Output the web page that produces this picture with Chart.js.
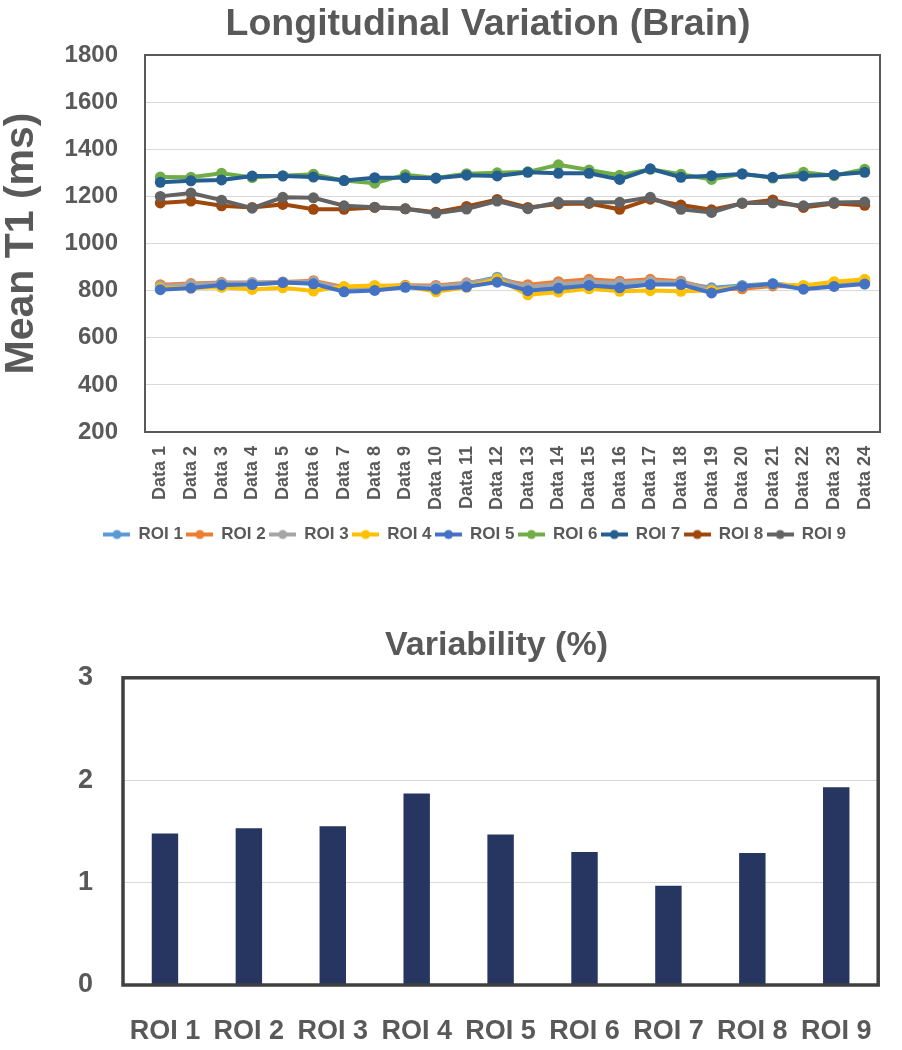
<!DOCTYPE html>
<html>
<head>
<meta charset="utf-8">
<title>Longitudinal Variation (Brain)</title>
<script src="https://cdn.jsdelivr.net/npm/chart.js@4.4.0/dist/chart.umd.min.js"></script>
<style>
  body { margin: 0; background: #fff; }
  #top-wrap { position: absolute; left: 0; top: 0; width: 902px; height: 553px; }
  #bottom-wrap { position: absolute; left: 0; top: 590px; width: 902px; height: 460px; }
</style>
</head>
<body>
<div id="top-wrap"><canvas id="trend"></canvas></div>
<div id="bottom-wrap"><canvas id="variability"></canvas></div>
<script>
var sessions = ['Data 1', 'Data 2', 'Data 3', 'Data 4', 'Data 5', 'Data 6', 'Data 7', 'Data 8',
  'Data 9', 'Data 10', 'Data 11', 'Data 12', 'Data 13', 'Data 14', 'Data 15', 'Data 16',
  'Data 17', 'Data 18', 'Data 19', 'Data 20', 'Data 21', 'Data 22', 'Data 23', 'Data 24'];

var roiNames = ['ROI 1', 'ROI 2', 'ROI 3', 'ROI 4', 'ROI 5', 'ROI 6', 'ROI 7', 'ROI 8', 'ROI 9'];

// mean T1 (ms) per session
var roi1 = [815, 822, 828, 828, 833, 836, 812, 816, 818, 820, 830, 857, 815, 820, 830, 825, 833, 833, 812, 822, 830, 818, 828, 840];
var roi2 = [825, 830, 835, 833, 837, 842, 814, 819, 823, 822, 833, 847, 825, 838, 848, 840, 848, 840, 805, 808, 820, 816, 828, 842];
var roi3 = [820, 826, 832, 835, 834, 838, 810, 815, 820, 818, 830, 850, 815, 828, 838, 832, 840, 835, 805, 818, 826, 818, 826, 842];
var roi4 = [810, 811, 814, 805, 812, 798, 818, 822, 820, 795, 814, 850, 782, 794, 808, 797, 800, 797, 800, 818, 826, 822, 838, 848];
var roi5 = [804, 811, 824, 826, 834, 829, 795, 801, 814, 806, 816, 836, 800, 810, 822, 812, 826, 826, 790, 818, 828, 806, 818, 828];
var roi6 = [1282, 1281, 1298, 1280, 1288, 1294, 1267, 1256, 1292, 1278, 1296, 1300, 1304, 1334, 1312, 1290, 1315, 1294, 1272, 1296, 1278, 1302, 1288, 1315];
var roi7 = [1260, 1266, 1270, 1286, 1286, 1282, 1267, 1279, 1279, 1277, 1290, 1287, 1302, 1298, 1298, 1272, 1317, 1281, 1288, 1295, 1281, 1286, 1292, 1302];
var roi8 = [1172, 1180, 1160, 1153, 1166, 1145, 1145, 1153, 1147, 1133, 1157, 1187, 1153, 1168, 1170, 1145, 1188, 1163, 1143, 1170, 1185, 1153, 1170, 1162];
var roi9 = [1200, 1214, 1184, 1150, 1196, 1194, 1160, 1154, 1147, 1128, 1146, 1180, 1148, 1175, 1175, 1175, 1196, 1145, 1132, 1172, 1172, 1160, 1174, 1176];

// variability (%) per ROI
var variability = [1.48, 1.53, 1.55, 1.87, 1.47, 1.30, 0.97, 1.29, 1.93];

var roiColors = ['#5b9bd5', '#ed7d31', '#a5a5a5', '#ffc000', '#4472c4', '#70ad47', '#255e91', '#9e480e', '#636363'];
var textColor = '#595959';

Chart.defaults.font.family = "'Liberation Sans', Arial, sans-serif";
Chart.defaults.font.weight = 'bold';
Chart.defaults.color = textColor;

// frame round the plot area
var boxBorder = {
  id: 'boxBorder',
  afterDraw: function(chart, args, opts) {
    var a = chart.chartArea;
    var ctx = chart.ctx;
    ctx.save();
    ctx.strokeStyle = opts.color;
    ctx.lineWidth = opts.width;
    ctx.strokeRect(a.left, a.top, a.right - a.left, a.bottom - a.top);
    ctx.restore();
  }
};

// nudge title / legend sideways (excel centres them a bit right of the canvas middle)
var nudge = {
  id: 'nudge',
  afterLayout: function(chart, args, opts) {
    if (chart.titleBlock) {
      chart.titleBlock.left += opts.title || 0;
      chart.titleBlock.right += opts.title || 0;
    }
    if (chart.legend) {
      chart.legend.left += opts.legend || 0;
      chart.legend.right += opts.legend || 0;
    }
  }
};

// little line-with-dot marker for the legend
function legendMark(color) {
  var c = document.createElement('canvas');
  c.width = 27;
  c.height = 12;
  var g = c.getContext('2d');
  g.strokeStyle = color;
  g.lineWidth = 4;
  g.beginPath();
  g.moveTo(0, 6);
  g.lineTo(27, 6);
  g.stroke();
  g.fillStyle = color;
  g.beginPath();
  g.arc(13.5, 6, 4.5, 0, Math.PI * 2);
  g.fill();
  return c;
}

var series = [roi1, roi2, roi3, roi4, roi5, roi6, roi7, roi8, roi9];
var marks = roiColors.map(legendMark);

var lineSets = series.map(function(values, i) {
  return {
    label: roiNames[i],
    data: values,
    borderColor: roiColors[i],
    backgroundColor: roiColors[i],
    borderWidth: 4,
    pointRadius: 5.5,
    pointBorderWidth: 0,
    tension: 0,
    order: 9 - i
  };
});

var trendConfig = {
  type: 'line',
  data: { labels: sessions, datasets: lineSets },
  options: {
    responsive: true,
    maintainAspectRatio: false,
    animation: false,
    events: [],
    layout: { padding: { left: 0, right: 22, top: 0, bottom: 0 } },
    plugins: {
      title: {
        display: true,
        text: 'Longitudinal Variation (Brain)',
        font: { size: 37.5 },
        padding: { top: 2, bottom: 8 }
      },
      legend: {
        position: 'bottom',
        labels: {
          usePointStyle: true,
          pointStyleWidth: 26,
          padding: 4,
          font: { size: 17 },
          generateLabels: function(chart) {
            return chart.data.datasets.map(function(ds, i) {
              return {
                text: ds.label,
                pointStyle: marks[i],
                fillStyle: ds.borderColor,
                strokeStyle: ds.borderColor,
                lineWidth: 0,
                fontColor: textColor,
                datasetIndex: i
              };
            });
          }
        }
      },
      tooltip: { enabled: false },
      boxBorder: { color: '#595959', width: 2 },
      nudge: { title: 48, legend: 35 }
    },
    scales: {
      x: {
        offset: true,
        grid: { display: false, drawTicks: false },
        border: { display: false },
        ticks: { autoSkip: false, minRotation: 90, maxRotation: 90, padding: 14, font: { size: 18 } },
        afterFit: function(s) { s.height = 90; }
      },
      y: {
        min: 200,
        max: 1800,
        grid: { color: '#d9d9d9', drawTicks: false },
        border: { display: false },
        ticks: {
          stepSize: 200,
          padding: 27,
          font: { size: 24 },
          callback: function(v) { return String(v); }
        },
        title: {
          display: true,
          text: 'Mean T1 (ms)',
          font: { size: 41 },
          padding: { top: -3, bottom: 0 }
        },
        afterFit: function(s) { s.width = 145; }
      }
    }
  },
  plugins: [boxBorder, nudge]
};

var barConfig = {
  type: 'bar',
  data: {
    labels: roiNames,
    datasets: [{
      label: 'Variability (%)',
      data: variability,
      backgroundColor: '#263660',
      categoryPercentage: 1,
      barPercentage: 0.315
    }]
  },
  options: {
    responsive: true,
    maintainAspectRatio: false,
    animation: false,
    events: [],
    layout: { padding: { left: 0, right: 9, top: 0, bottom: 0 } },
    plugins: {
      title: {
        display: true,
        text: 'Variability (%)',
        font: { size: 34 },
        padding: { top: 35, bottom: 12 }
      },
      legend: { display: false },
      tooltip: { enabled: false },
      boxBorder: { color: '#404040', width: 3.5 },
      nudge: { title: 50 }
    },
    scales: {
      x: {
        grid: { display: false, drawTicks: false },
        border: { display: false },
        ticks: { padding: 30, font: { size: 27 } },
        afterFit: function(s) { s.height = 65; }
      },
      y: {
        min: 0,
        max: 3,
        grid: { color: '#d9d9d9', drawTicks: false },
        border: { display: false },
        ticks: { stepSize: 1, padding: 30, font: { size: 27 } },
        afterFit: function(s) { s.width = 123; }
      }
    }
  },
  plugins: [boxBorder, nudge]
};

window.onload = function() {
  window.trendChart = new Chart(document.getElementById('trend').getContext('2d'), trendConfig);
  window.varChart = new Chart(document.getElementById('variability').getContext('2d'), barConfig);
};
</script>
</body>
</html>
